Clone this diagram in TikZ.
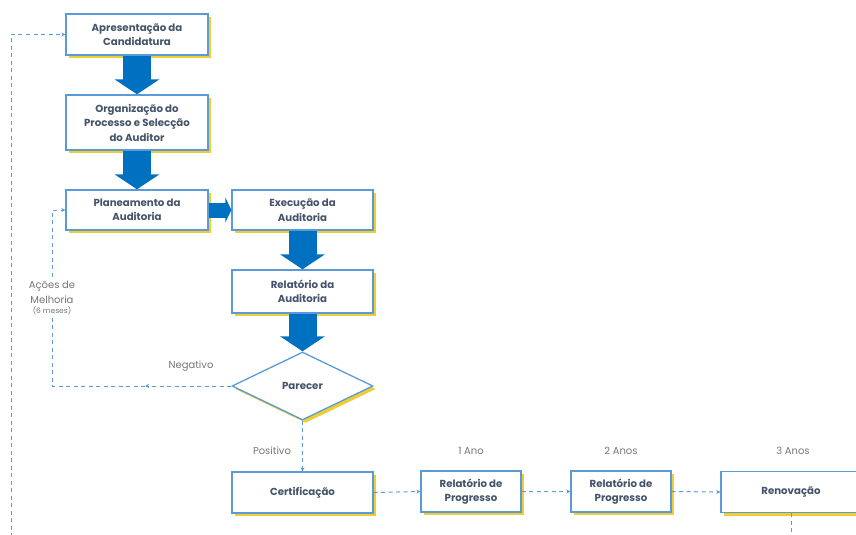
\documentclass[tikz,border=0pt]{standalone}
\usepackage{fontspec}
\setmainfont{Poppins}
\usetikzlibrary{arrows.meta,shapes.geometric,shadows}
\definecolor{bbord}{RGB}{91,155,213}
\definecolor{barrow}{RGB}{0,112,192}
\definecolor{tdark}{RGB}{68,84,106}
\definecolor{tgray}{RGB}{118,118,118}
\definecolor{ysh}{RGB}{240,205,50}
\tikzset{
  box/.style={rectangle, draw=bbord, line width=1.3pt, fill=white, text=tdark,
    font=\bfseries\fontsize{10.2}{14.5}\selectfont, align=center, inner sep=1pt,
    drop shadow={shadow xshift=3pt, shadow yshift=-3pt, fill=ysh, opacity=1}},
  dia/.style={diamond, draw=bbord, line width=1.3pt, fill=white, text=tdark,
    font=\bfseries\fontsize{10.2}{14.5}\selectfont, inner sep=0pt,
    drop shadow={shadow xshift=3pt, shadow yshift=-3pt, fill=ysh, opacity=1}},
  bigarrow/.style={draw=barrow, line width=28pt, -{Triangle[width=44pt,length=15pt]}, barrow},
  smallarrow/.style={draw=barrow, line width=15pt, -{Triangle[width=25pt,length=6pt]}, barrow},
  dash line/.style={draw=bbord, line width=1pt, dash pattern=on 4pt off 3.5pt},
  dash arrow/.style={dash line, -{Stealth[length=4pt,width=4pt]}},
  lbl/.style={text=tgray, font=\fontsize{10}{14.5}\selectfont, align=center, inner sep=1pt},
}
\begin{document}
\begin{tikzpicture}[x=1pt,y=-1pt]
\useasboundingbox (0,0) rectangle (856,535);
% boxes
\node[box, minimum width=142pt, minimum height=41pt] (apr) at (137,34.5) {Apresentação da\\Candidatura};
\node[box, minimum width=142pt, minimum height=55pt] (org) at (137,122.5) {Organização do\\Processo e Selecção\\do Auditor};
\node[box, minimum width=142pt, minimum height=40pt] (pla) at (137,210) {Planeamento da\\Auditoria};
\node[box, minimum width=141pt, minimum height=40pt] (exe) at (302.5,210) {Execução da\\Auditoria};
\node[box, minimum width=141pt, minimum height=43pt] (rel) at (302.5,291.5) {Relatório da\\Auditoria};
\node[dia, minimum width=141pt, minimum height=68pt] (par) at (302.5,386) {Parecer};
\node[box, minimum width=141pt, minimum height=41pt] (cer) at (302.5,492.5) {Certificação};
\node[box, minimum width=100pt, minimum height=41pt] (rp1) at (471,491.5) {Relatório de\\Progresso};
\node[box, minimum width=100pt, minimum height=41pt] (rp2) at (621,491.5) {Relatório de\\Progresso};
\node[box, minimum width=140pt, minimum height=41pt] (ren) at (791,492) {Renovação};
% thick arrows
\draw[bigarrow] (apr.south) -- (org.north);
\draw[bigarrow] (org.south) -- (pla.north);
\draw[smallarrow] (pla.east) -- (exe.west);
\draw[bigarrow] (exe.south) -- (rel.north);
\draw[bigarrow] (rel.south) -- (par.north);
% dashed connectors
\coordinate (nl) at (52,386);
\coordinate (nm) at (145,386);
\draw[dash arrow] (par.west) -- (nm);
\draw[dash arrow] (nm) -- (nl) |- (pla.west);
\draw[dash arrow] (par.south) -- (cer.north);
\draw[dash arrow] (cer.east) -- (rp1.west);
\draw[dash arrow] (rp1.east) -- (rp2.west);
\draw[dash arrow] (rp2.east) -- (ren.west);
\coordinate (rb) at (ren.south |- 0,537);
\draw[dash line] (ren.south) -- (rb);
\coordinate (lb) at (11,537);
\draw[dash arrow] (lb) |- (apr.west);
% labels
\node[lbl, fill=white, inner sep=2pt] (acoes) at (52,298) {Ações de\\Melhoria\\[-4pt]{\fontsize{7.5}{9}\selectfont(6 meses)}};
\node[lbl] (neg) at (191,366) {Negativo};
\node[lbl] (pos) at (272,451) {Positivo};
\node[lbl] (a1) at (471,451) {1 Ano};
\node[lbl] (a2) at (621,451) {2 Anos};
\node[lbl] (a3) at (793,451) {3 Anos};
\end{tikzpicture}
\end{document}
